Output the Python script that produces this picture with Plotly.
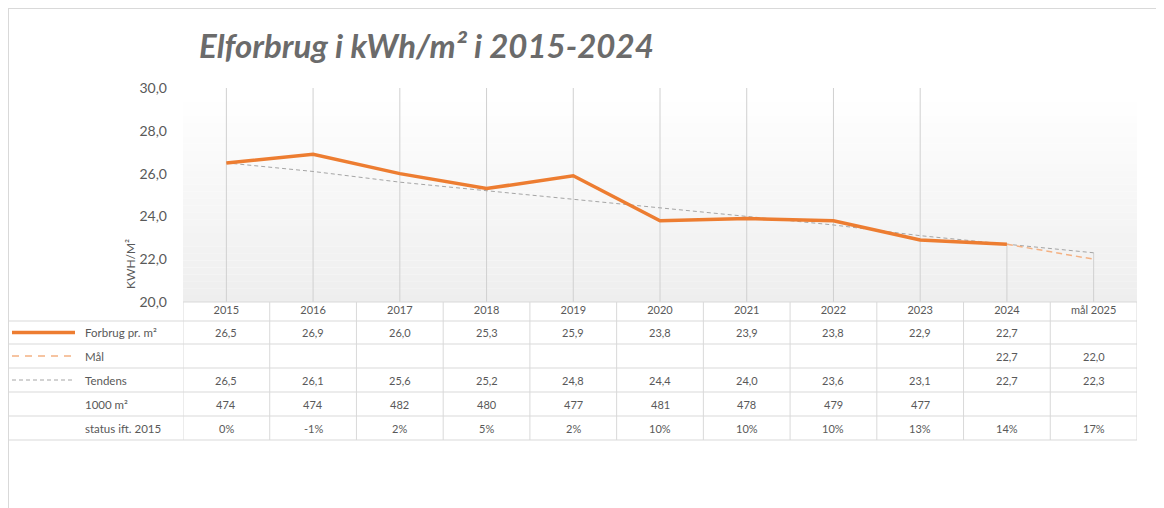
import plotly.graph_objects as go

# ---------------- data ----------------
categories = ["2015", "2016", "2017", "2018", "2019", "2020", "2021", "2022", "2023", "2024", "mål 2025"]
forbrug = [26.5, 26.9, 26.0, 25.3, 25.9, 23.8, 23.9, 23.8, 22.9, 22.7, None]
maal = [None, None, None, None, None, None, None, None, None, 22.7, 22.0]
tendens = [26.5, 26.1, 25.6, 25.2, 24.8, 24.4, 24.0, 23.6, 23.1, 22.7, 22.3]
areal_1000m2 = [474, 474, 482, 480, 477, 481, 478, 479, 477, None, None]
status_pct = [0, -1, 2, 5, 2, 10, 10, 10, 13, 14, 17]
row_labels = ["Forbrug pr. m²", "Mål", "Tendens", "1000 m²", "status ift. 2015"]
y_ticks = [20, 22, 24, 26, 28, 30]
title_text = "Elforbrug i kWh/m² i 2015-2024"
y_title = "KWH/M²"

# ---------------- layout geometry (page pixels) ----------------
OFF = 8                      # default body margin of the html page
PAGE_W, PAGE_H = 1164, 508
W, H = PAGE_W - OFF, PAGE_H - OFF
L, R, T, B = 183, 1137, 88, 302
PW, PH = R - L, B - T
FONT = "Lato, 'Open Sans', sans-serif"
TXT = "#595959"
GRID = "#D9D9D9"
ORANGE = "#ED7D31"
LIGHT_OR = "#F4B183"
GRAY = "#A5A5A5"


def px(xp):
    return (xp - L) / PW


def py(yp):
    return (B - yp) / PH


x = list(range(len(categories)))
ymin, ymax = min(y_ticks), max(y_ticks)

fig = go.Figure()
fig.add_trace(go.Scatter(x=x, y=tendens, mode="lines", line=dict(color=GRAY, width=1, dash="4px,3px"),
                         name="Tendens", hoverinfo="skip"))
fig.add_trace(go.Scatter(x=x, y=maal, mode="lines", line=dict(color=LIGHT_OR, width=1.5, dash="6px,4px"),
                         name="Mål", hoverinfo="skip"))
fig.add_trace(go.Scatter(x=x, y=forbrug, mode="lines", line=dict(color=ORANGE, width=3.5),
                         name="Forbrug pr. m²", hoverinfo="skip"))

shapes = []
# gradient plot background
nb = 30
top_bg = 95
for k in range(nb):
    y0p = top_bg + (B - top_bg) * k / nb
    y1p = top_bg + (B - top_bg) * (k + 1) / nb
    g = int(round(255 - (255 - 238) * (k + 0.5) / nb))
    shapes.append(dict(type="rect", xref="paper", yref="paper", x0=0, x1=1, y0=py(y1p), y1=py(y0p),
                       fillcolor=f"rgb({g},{g},{g})", line=dict(width=0), layer="below"))

# drop lines from highest value of each category down to axis
for i in x:
    vals = [s[i] for s in (forbrug, maal, tendens, areal_1000m2) if s[i] is not None]
    top = min(ymax, max(vals))
    shapes.append(dict(type="line", xref="x", yref="y", x0=i, x1=i, y0=ymin, y1=top,
                       line=dict(color="#D0D0D0", width=1), layer="below"))

# outer chart border
shapes.append(dict(type="line", xref="paper", yref="paper", x0=px(8), x1=px(PAGE_W + 5), y0=py(8), y1=py(8),
                   line=dict(color=GRID, width=2)))
shapes.append(dict(type="line", xref="paper", yref="paper", x0=px(8), x1=px(8), y0=py(8), y1=py(PAGE_H + 5),
                   line=dict(color=GRID, width=2)))

# data table grid
row_lines = [321, 344, 368, 392, 416, 440]
shapes.append(dict(type="line", xref="paper", yref="paper", x0=0, x1=1, y0=py(B), y1=py(B),
                   line=dict(color=GRID, width=1)))
for yl in row_lines:
    shapes.append(dict(type="line", xref="paper", yref="paper", x0=px(8), x1=1, y0=py(yl), y1=py(yl),
                       line=dict(color=GRID, width=1)))
for k in range(len(categories) + 1):
    shapes.append(dict(type="line", xref="x", yref="paper", x0=k - 0.5, x1=k - 0.5, y0=py(B), y1=py(440),
                       line=dict(color=GRID, width=1)))

row_centers = [(row_lines[j] + row_lines[j + 1]) / 2 for j in range(5)]

# legend keys in table
key_styles = [dict(color=ORANGE, width=3.5), dict(color=LIGHT_OR, width=1.5, dash="7px,6px"),
              dict(color=GRAY, width=1, dash="4px,3px")]
for j, st in enumerate(key_styles):
    shapes.append(dict(type="line", xref="paper", yref="paper", x0=px(12), x1=px(75),
                       y0=py(row_centers[j]), y1=py(row_centers[j]), line=st))

annotations = []
annotations.append(dict(text=f"<b><i>{title_text}</i></b>", xref="paper", yref="paper", x=px(426), y=py(45),
                        xanchor="center", yanchor="middle", showarrow=False,
                        font=dict(family=FONT, size=33, color="#6b6b6b")))
annotations.append(dict(text=y_title, xref="paper", yref="paper", x=px(130), y=py(264), textangle=-90,
                        xanchor="center", yanchor="middle", showarrow=False,
                        font=dict(family=FONT, size=12, color=TXT)))

for j, lab in enumerate(row_labels):
    annotations.append(dict(text=lab, xref="paper", yref="paper", x=px(83), y=py(row_centers[j]),
                            xanchor="left", yanchor="middle", showarrow=False,
                            font=dict(family=FONT, size=11.5, color=TXT)))


def fmt1(v):
    return f"{v:.1f}".replace(".", ",")


rows = [
    [fmt1(v) if v is not None else "" for v in forbrug],
    [fmt1(v) if v is not None else "" for v in maal],
    [fmt1(v) if v is not None else "" for v in tendens],
    [str(v) if v is not None else "" for v in areal_1000m2],
    [f"{v}%" for v in status_pct],
]
for j, row in enumerate(rows):
    for i, t in enumerate(row):
        if t:
            annotations.append(dict(text=t, xref="x", yref="paper", x=i, y=py(row_centers[j]),
                                    xanchor="center", yanchor="middle", showarrow=False,
                                    font=dict(family=FONT, size=11, color=TXT)))

fig.update_layout(
    width=W, height=H,
    margin=dict(l=L - OFF, r=PAGE_W - R, t=T - OFF, b=PAGE_H - B, pad=0),
    paper_bgcolor="white", plot_bgcolor="rgba(0,0,0,0)",
    showlegend=False,
    separators=",.",
    font=dict(family=FONT, color=TXT),
    shapes=shapes, annotations=annotations,
    xaxis=dict(range=[-0.5, len(categories) - 0.5], tickmode="array", tickvals=x, ticktext=categories,
               showgrid=False, zeroline=False, showline=False, ticks="",
               tickfont=dict(family=FONT, size=11, color=TXT), fixedrange=True),
    yaxis=dict(range=[ymin, ymax], tickmode="array", tickvals=y_ticks, tickformat=".1f",
               showgrid=False, zeroline=False, showline=False, ticks="", ticklabelstandoff=15,
               tickfont=dict(family=FONT, size=14, color=TXT), fixedrange=True),
)

fig.write_html("out.html")
